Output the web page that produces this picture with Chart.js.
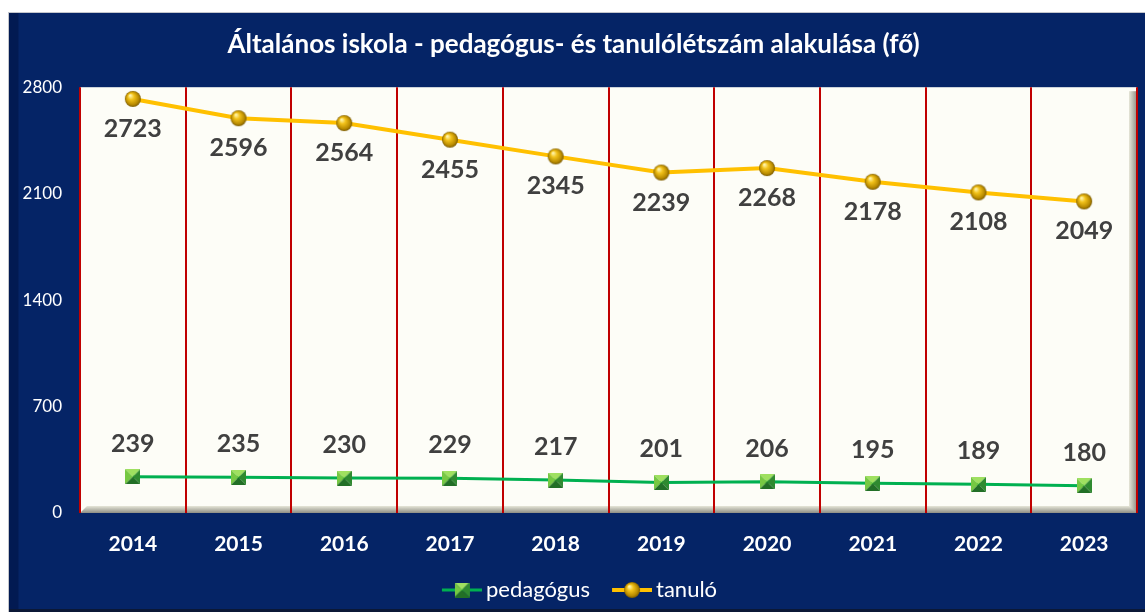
<!DOCTYPE html>
<html lang="hu">
<head>
<meta charset="utf-8">
<title>Általános iskola - pedagógus- és tanulólétszám</title>
<script src="https://cdn.jsdelivr.net/npm/chart.js@4.4.1/dist/chart.umd.min.js"></script>
<style>
  html, body { margin: 0; padding: 0; background: #ffffff; }
  #frame {
    position: absolute; left: 8px; top: 12px; width: 1136px; height: 599px;
    border-top: 1px solid #c4c6cc; border-left: 1px solid #c4c6cc;
    background: linear-gradient(to right, #021a52 0, #021a52 9px, #052466 10px);
    box-shadow: inset 0 -3px 0 #0b1836;
  }
  #chart { display: block; }
</style>
</head>
<body>
<div id="frame"><canvas id="chart" width="1136" height="599"></canvas></div>
<script>
const years     = ["2014","2015","2016","2017","2018","2019","2020","2021","2022","2023"];
const pedagogus = [239, 235, 230, 229, 217, 201, 206, 195, 189, 180];
const tanulo    = [2723, 2596, 2564, 2455, 2345, 2239, 2268, 2178, 2108, 2049];
const yTicks    = [0, 700, 1400, 2100, 2800];

const FONT = "Lato, 'Open Sans', sans-serif";
Chart.defaults.font.family = FONT;
Chart.defaults.color = "#ffffff";

// gold sphere marker
function sphere(r) {
  const c = document.createElement("canvas");
  c.width = c.height = r * 2 + 2;
  const g = c.getContext("2d");
  const cx = r + 1, cy = r + 1;
  const grad = g.createRadialGradient(cx - r * 0.35, cy - r * 0.45, 0.5, cx, cy, r);
  grad.addColorStop(0, "#fff6b0");
  grad.addColorStop(0.35, "#f2c21a");
  grad.addColorStop(0.8, "#b88a00");
  grad.addColorStop(1, "#7a5a00");
  g.fillStyle = grad;
  g.beginPath(); g.arc(cx, cy, r, 0, Math.PI * 2); g.fill();
  return c;
}

// green pyramid square marker
function pyramid(s) {
  const c = document.createElement("canvas");
  c.width = c.height = s;
  const g = c.getContext("2d");
  const m = s / 2;
  const tri = (pts, col) => {
    g.fillStyle = col; g.beginPath();
    g.moveTo(pts[0], pts[1]); g.lineTo(pts[2], pts[3]); g.lineTo(m, m);
    g.closePath(); g.fill();
  };
  tri([0, 0, s, 0], "#9fe060");
  tri([0, 0, 0, s], "#76c843");
  tri([s, 0, s, s], "#2f8a30");
  tri([0, s, s, s], "#226f26");
  return c;
}

// legend swatch: line with marker on it, blank space on the left keeps items apart
function legendSwatch(color, width, marker) {
  const c = document.createElement("canvas");
  c.width = 59; c.height = 18;
  const g = c.getContext("2d");
  g.strokeStyle = color; g.lineWidth = width;
  g.beginPath(); g.moveTo(19, 9); g.lineTo(59, 9); g.stroke();
  g.drawImage(marker, 39 - marker.width / 2, 9 - marker.height / 2);
  return c;
}

const ball = sphere(8);
const cube = pyramid(15);

const plotBackground = {
  id: "plotBackground",
  beforeDraw(chart) {
    const { ctx, chartArea: a } = chart;
    ctx.save();
    ctx.fillStyle = "#fdfdf7";
    ctx.fillRect(a.left, a.top, a.right - a.left, a.bottom - a.top);
    // bevel along right and bottom edges
    let gr = ctx.createLinearGradient(a.right - 8, 0, a.right, 0);
    gr.addColorStop(0, "#e6e6d8"); gr.addColorStop(1, "#8e8e84");
    ctx.fillStyle = gr;
    ctx.fillRect(a.right - 8, a.top + 4, 8, a.bottom - a.top - 4);
    gr = ctx.createLinearGradient(0, a.bottom - 7, 0, a.bottom);
    gr.addColorStop(0, "#e6e6d8"); gr.addColorStop(1, "#8e8e84");
    ctx.fillStyle = gr;
    ctx.beginPath();
    ctx.moveTo(a.left, a.bottom); ctx.lineTo(a.left + 7, a.bottom - 7);
    ctx.lineTo(a.right - 8, a.bottom - 7); ctx.lineTo(a.right, a.bottom);
    ctx.closePath(); ctx.fill();
    ctx.restore();
  }
};

const valueLabels = {
  id: "valueLabels",
  afterDatasetsDraw(chart) {
    const ctx = chart.ctx;
    ctx.save();
    ctx.font = "bold 25px " + FONT;
    ctx.fillStyle = "#404040";
    ctx.textAlign = "center";
    ctx.textBaseline = "middle";
    chart.data.datasets.forEach((ds, i) => {
      chart.getDatasetMeta(i).data.forEach((pt, j) => {
        ctx.fillText(String(ds.data[j]), pt.x, pt.y + ds.labelOffset);
      });
    });
    ctx.restore();
  }
};

new Chart(document.getElementById("chart"), {
  type: "line",
  data: {
    labels: years,
    datasets: [
      {
        label: "pedagógus",
        data: pedagogus,
        borderColor: "#00b050",
        borderWidth: 3,
        pointStyle: cube,
        legendSwatch: legendSwatch("#00b050", 3, cube),
        labelOffset: -33,
        tension: 0
      },
      {
        label: "tanuló",
        data: tanulo,
        borderColor: "#ffc000",
        borderWidth: 4,
        pointStyle: ball,
        legendSwatch: legendSwatch("#ffc000", 4, ball),
        labelOffset: 30,
        tension: 0
      }
    ]
  },
  options: {
    responsive: false,
    animation: false,
    layout: { padding: { left: 0, right: 7, bottom: 1 } },
    plugins: {
      title: {
        display: true,
        text: "Általános iskola - pedagógus- és tanulólétszám alakulása (fő)",
        color: "#ffffff",
        font: { size: 26, weight: "bold" },
        padding: { top: 16, bottom: 27 }
      },
      legend: {
        position: "bottom",
        labels: {
          color: "#ffffff",
          font: { size: 22 },
          usePointStyle: true,
          pointStyleWidth: 45,
          boxHeight: 18,
          padding: 10,
          generateLabels(chart) {
            return chart.data.datasets.map((ds, i) => ({
              text: ds.label,
              pointStyle: ds.legendSwatch,
              fontColor: "#ffffff",
              strokeStyle: "transparent",
              lineWidth: 0,
              hidden: false,
              datasetIndex: i
            }));
          }
        }
      },
      tooltip: { enabled: false }
    },
    scales: {
      x: {
        offset: true,
        grid: { offset: true, color: "#c00000", lineWidth: 2, drawTicks: false },
        border: { display: false },
        ticks: { color: "#ffffff", font: { size: 21, weight: "bold" }, padding: 19 },
        afterFit(s) { s.height = 56; }
      },
      y: {
        min: 0,
        max: 2800,
        afterBuildTicks(s) { s.ticks = yTicks.map(v => ({ value: v })); },
        grid: { display: false, drawTicks: false },
        border: { display: false },
        ticks: { color: "#ffffff", font: { size: 17 }, padding: 18, callback: v => String(v) },
        afterFit(s) { s.width = 71; }
      }
    }
  },
  plugins: [plotBackground, valueLabels]
});
</script>
</body>
</html>
